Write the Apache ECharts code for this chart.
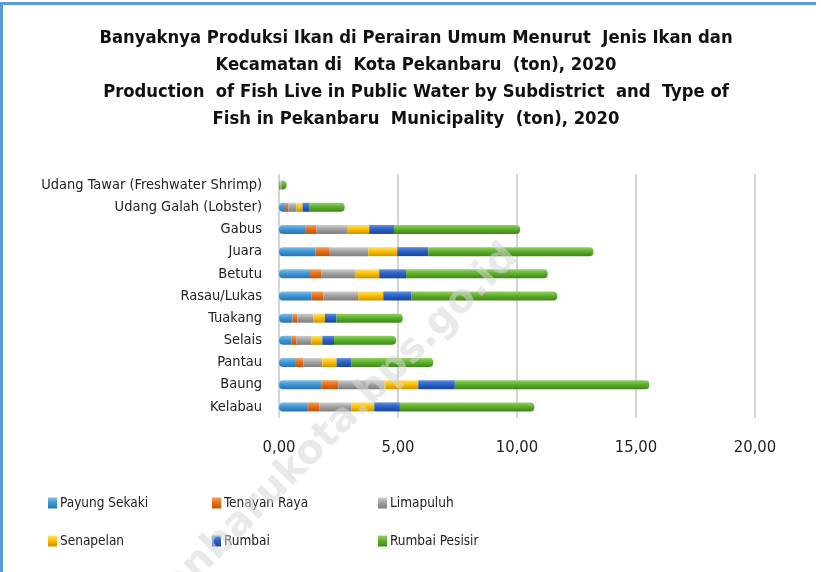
<!DOCTYPE html>
<html>
<head>
<meta charset="utf-8">
<script src="https://cdn.jsdelivr.net/npm/echarts@6/dist/echarts.min.js"></script>
<style>
html, body { margin: 0; padding: 0; background: #fff; }
#app { width: 821px; height: 572px; }
</style>
</head>
<body>
<div id="app"></div>
<script>
// categories from bottom to top (category axis draws first item at bottom)
var fishTypes = ['Kelabau', 'Baung', 'Pantau', 'Selais', 'Tuakang', 'Rasau/Lukas', 'Betutu', 'Juara', 'Gabus', 'Udang Galah (Lobster)', 'Udang Tawar (Freshwater Shrimp)'];

var payungSekaki = [1.21, 1.79, 0.71, 0.53, 0.57, 1.37, 1.30, 1.54, 1.13, 0.25, 0.03];
var tenayanRaya = [0.48, 0.70, 0.31, 0.21, 0.20, 0.49, 0.49, 0.56, 0.45, 0.14, 0.02];
var limapuluh = [1.36, 1.94, 0.80, 0.63, 0.67, 1.47, 1.40, 1.65, 1.31, 0.35, 0.03];
var senapelan = [0.95, 1.42, 0.60, 0.45, 0.49, 1.05, 1.02, 1.22, 0.90, 0.25, 0.02];
var rumbai = [1.08, 1.54, 0.63, 0.49, 0.49, 1.19, 1.13, 1.30, 1.04, 0.30, 0.02];
var rumbaiPesisir = [5.65, 8.17, 3.43, 2.61, 2.78, 6.12, 5.95, 6.94, 5.30, 1.47, 0.20];

var seriesNames = ['Payung Sekaki', 'Tenayan Raya', 'Limapuluh', 'Senapelan', 'Rumbai', 'Rumbai Pesisir'];
var seriesData = [payungSekaki, tenayanRaya, limapuluh, senapelan, rumbai, rumbaiPesisir];

var titleLines = [
    'Banyaknya Produksi Ikan di Perairan Umum Menurut  Jenis Ikan dan',
    'Kecamatan di  Kota Pekanbaru  (ton), 2020',
    'Production  of Fish Live in Public Water by Subdistrict  and  Type of',
    'Fish in Pekanbaru  Municipality  (ton), 2020'
];

var colors = [
    ['#7cc0ee', '#3f97d6', '#2a73ad'],
    ['#f7a25c', '#e8701d', '#b9540e'],
    ['#cfcfcf', '#a3a3a3', '#7d7d7d'],
    ['#ffe066', '#ffc000', '#c79400'],
    ['#5d8fe0', '#2c62c8', '#1d4593'],
    ['#8fd45f', '#60b02e', '#3f8419']
];

// legend placement: 3 columns x 2 rows
var legendCols = [48, 212, 378];
var legendRows = [496, 534];

var font = 'DejaVu Sans Condensed';

function grad(c) {
    return new echarts.graphic.LinearGradient(0, 0, 0, 1, [
        { offset: 0, color: c[0] },
        { offset: 0.45, color: c[1] },
        { offset: 1, color: c[2] }
    ]);
}

var series = seriesData.map(function (d, i) {
    var radius = 0;
    if (i === 0) radius = [4, 0, 0, 4];
    if (i === seriesData.length - 1) radius = [0, 4, 4, 0];
    return {
        name: seriesNames[i],
        type: 'bar',
        stack: 'total',
        barWidth: 9,
        data: d,
        itemStyle: {
            color: grad(colors[i]),
            borderRadius: radius
        }
    };
});

var legends = seriesNames.map(function (n, i) {
    return {
        data: [n],
        left: legendCols[i % 3],
        top: legendRows[Math.floor(i / 3)],
        padding: 0,
        itemWidth: 9,
        itemHeight: 11,
        itemGap: 0,
        icon: 'rect',
        textStyle: { fontFamily: font, fontSize: 13.5, color: '#222', padding: [0, 0, 0, -2] }
    };
});

var titleText = titleLines.map(function (t, i) {
    return {
        type: 'text',
        x: 416,
        y: 38 + i * 27,
        style: {
            text: t,
            fontFamily: font,
            fontSize: 18.3,
            fontWeight: 'bold',
            fill: '#111',
            align: 'center',
            verticalAlign: 'middle'
        }
    };
});

var option = {
    backgroundColor: '#fff',
    animation: false,
    legend: legends,
    grid: {
        left: 279,
        right: 66,
        top: 174,
        bottom: 154
    },
    xAxis: {
        type: 'value',
        min: 0,
        max: 20,
        interval: 5,
        axisLine: { show: false },
        axisTick: { show: false },
        splitLine: { lineStyle: { color: '#d4d4d4', width: 2 } },
        axisLabel: {
            margin: 21,
            fontFamily: font,
            fontSize: 16.5,
            color: '#222',
            formatter: function (v) {
                return v.toFixed(2).replace('.', ',');
            }
        }
    },
    yAxis: {
        type: 'category',
        data: fishTypes,
        axisLine: { show: false },
        axisTick: { show: false },
        axisLabel: {
            margin: 17,
            fontFamily: font,
            fontSize: 14.5,
            color: '#222'
        }
    },
    graphic: titleText.concat([
        { type: 'rect', left: 0, top: 2, shape: { width: 816, height: 3 }, style: { fill: '#5b9bd5' } },
        { type: 'rect', left: 0, top: 2, shape: { width: 3, height: 570 }, style: { fill: '#5b9bd5' } },
        {
            type: 'text',
            x: 312,
            y: 451,
            rotation: 0.785,
            z: 100,
            style: {
                text: 'pekanbarukota.bps.go.id',
                fontFamily: 'DejaVu Sans',
                fontSize: 40,
                fontWeight: 'bold',
                fill: 'rgba(215,215,215,0.55)',
                align: 'center',
                verticalAlign: 'middle'
            }
        }
    ]),
    series: series
};

var myChart = echarts.init(document.getElementById('app'));
myChart.setOption(option);
</script>
</body>
</html>
